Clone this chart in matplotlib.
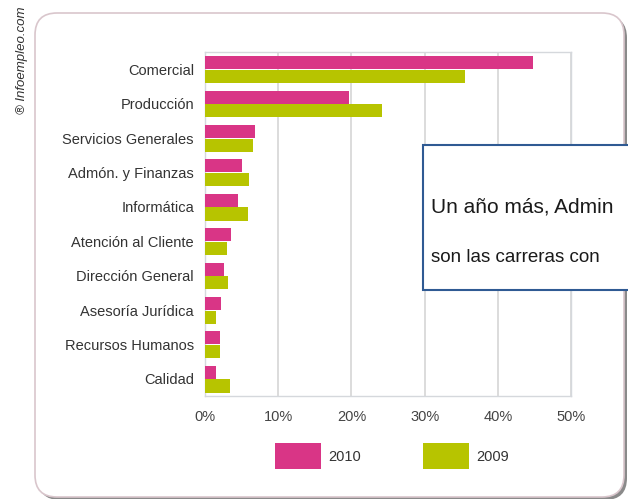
import matplotlib
matplotlib.use("Agg")
import matplotlib.pyplot as plt
import numpy as np
from matplotlib.patches import FancyBboxPatch, Rectangle, Patch

plt.rcParams['font.family'] = ['Liberation Sans', 'DejaVu Sans']

categories = ["Comercial", "Producción", "Servicios Generales", "Admón. y Finanzas",
              "Informática", "Atención al Cliente", "Dirección General",
              "Asesoría Jurídica", "Recursos Humanos", "Calidad"]
values_2010 = [44.8, 19.7, 6.8, 5.0, 4.5, 3.5, 2.6, 2.2, 2.0, 1.5]
values_2009 = [35.5, 24.2, 6.6, 6.0, 5.9, 3.0, 3.2, 1.5, 2.0, 3.4]
series_labels = ["2010", "2009"]
xticks = [0, 10, 20, 30, 40, 50]
xtick_labels = ["0%", "10%", "20%", "30%", "40%", "50%"]
note_lines = ["Un año más, Admin", "son las carreras con"]
credit = "® Infoempleo.com"

PINK = "#D93586"
GREEN = "#B7C400"
W, H = 628, 499

fig = plt.figure(figsize=(W / 100, H / 100), dpi=100)
fig.patch.set_facecolor("white")

# background pixel axes for rounded frame
bg = fig.add_axes([0, 0, 1, 1], zorder=-1)
bg.set_xlim(0, W)
bg.set_ylim(H, 0)
bg.axis("off")
shadow = FancyBboxPatch((38, 16), 589, 484, boxstyle="round,pad=0,rounding_size=22",
                        facecolor="#8a8a8a", edgecolor="none")
bg.add_patch(shadow)
frame = FancyBboxPatch((35, 13), 589, 484, boxstyle="round,pad=0,rounding_size=22",
                       facecolor="white", edgecolor="#D9C6CC", linewidth=1.2)
bg.add_patch(frame)

ax = fig.add_axes([205 / W, 1 - 396 / H, 366 / W, 344 / H])
y = np.arange(len(categories))
h = 0.38
ax.barh(y - h / 2, values_2010, height=h, color=PINK, label=series_labels[0], zorder=3)
ax.barh(y + h / 2 + 0.02, values_2009, height=h, color=GREEN, label=series_labels[1], zorder=3)
ax.set_ylim(len(categories) - 0.5, -0.5)
ax.set_xlim(0, 50)
ax.set_yticks(y)
ax.set_yticklabels(categories, fontsize=10.5, color="#333333")
ax.set_xticks(xticks)
ax.set_xticklabels(xtick_labels, fontsize=10.5, color="#444444")
ax.tick_params(axis="both", length=0)
ax.tick_params(axis="y", pad=8)
ax.tick_params(axis="x", pad=10)
ax.grid(axis="x", color="#D5D5D5", linewidth=1.2, zorder=0)
for s in ax.spines.values():
    s.set_color("#D5D8DC")
    s.set_linewidth(1.0)
ax.set_facecolor("white")

handles = [Patch(facecolor=PINK, edgecolor="none"), Patch(facecolor=GREEN, edgecolor="none")]
fig.legend(handles, series_labels, loc="center", bbox_to_anchor=(392 / W, 1 - 456 / H),
           ncol=2, frameon=False, fontsize=10.5, handlelength=3.2, handleheight=2.3,
           handletextpad=0.5, columnspacing=4.2, borderpad=0, labelcolor="#333333")

fig.text(22 / W, 1 - 60 / H, credit, rotation=90, ha="center", va="center",
         fontsize=9.5, style="italic", color="#333333")

# annotation box (cut off at the right edge)
box = Rectangle((423 / W, 1 - 290 / H), 220 / W, 145 / H, transform=fig.transFigure,
                facecolor="white", edgecolor="#2F5A93", linewidth=1.5, zorder=5)
fig.add_artist(box)
fig.text(431 / W, 1 - 207 / H, note_lines[0], ha="left", va="center", fontsize=15,
         color="#1a1a1a", zorder=6)
fig.text(431 / W, 1 - 258 / H, note_lines[1], ha="left", va="center", fontsize=13.5,
         color="#1a1a1a", zorder=6)

fig.savefig("out.png", dpi=100)
